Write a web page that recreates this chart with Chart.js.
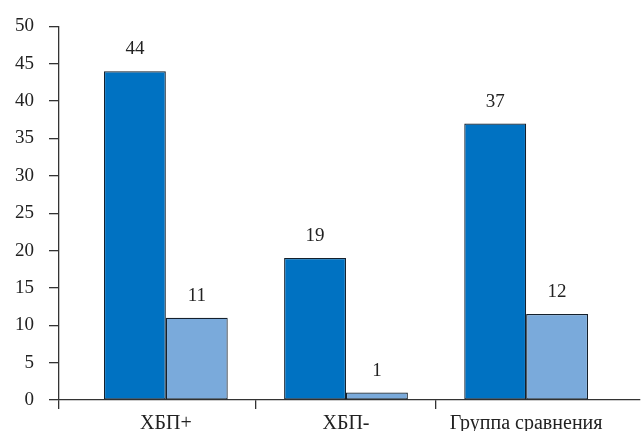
<!DOCTYPE html>
<html><head><meta charset="utf-8">
<script src="https://cdn.jsdelivr.net/npm/chart.js@4/dist/chart.umd.min.js"></script>
<style>html,body{margin:0;padding:0;background:#fff}#wrap{width:644px;height:431px}</style>
</head><body><div id="wrap"><canvas id="c"></canvas></div>
<script>
const categories = ['ХБП+', 'ХБП-', 'Группа сравнения'];
const seriesDark = [44, 19, 37];
const seriesLight = [11, 1, 11.5];
const yTicks = [0, 5, 10, 15, 20, 25, 30, 35, 40, 45, 50];

const FONT = "'Liberation Serif', 'DejaVu Serif', serif";
const XMIN = -0.593, XMAX = 2.632;

const labelPlugin = {
  id: 'vals',
  afterDatasetsDraw(chart) {
    const ctx = chart.ctx;
    ctx.save();
    ctx.font = "19px " + FONT;
    ctx.fillStyle = '#222';
    ctx.textAlign = 'center';
    ctx.textBaseline = 'middle';
    chart.data.datasets.forEach((ds, di) => {
      chart.getDatasetMeta(di).data.forEach((el, i) => {
        ctx.fillText(String(Math.round(ds.data[i].y)), el.x, el.y - 22);
      });
    });
    ctx.restore();
  }
};

new Chart(document.getElementById('c'), {
  type: 'bar',
  data: {
    datasets: [
      { data: seriesDark.map((v, i) => ({x: i, y: v})), backgroundColor: '#0072C2', borderColor: '#14202c', borderWidth: 1.2, borderSkipped: false, categoryPercentage: 0.687, barPercentage: 1, xAxisID: 'x' },
      { data: seriesLight.map((v, i) => ({x: i, y: v})), backgroundColor: '#7AAADB', borderColor: '#14202c', borderWidth: 1.2, borderSkipped: false, categoryPercentage: 0.687, barPercentage: 1, xAxisID: 'x' }
    ]
  },
  options: {
    responsive: true, maintainAspectRatio: false, animation: false,
    layout: { padding: { left: 0, right: 4, top: 10, bottom: 0 } },
    plugins: { legend: { display: false }, tooltip: { enabled: false } },
    scales: {
      x: {
        type: 'linear', min: XMIN, max: XMAX, position: 'bottom', weight: 0, offset: false,
        afterBuildTicks(s) { s.ticks = [{value: XMIN}, {value: 0.5}, {value: 1.5}]; },
        ticks: { display: false },
        grid: { display: true, offset: false, drawOnChartArea: false, drawTicks: true, tickLength: 9, color: '#333', lineWidth: 1.3 },
        border: { display: true, color: '#333', width: 1.3 }
      },
      x2: {
        type: 'linear', min: XMIN, max: XMAX, position: 'bottom', weight: 1, offset: false,
        afterBuildTicks(s) { s.ticks = categories.map((c, i) => ({value: i})); },
        afterFit(s) { s.height = 22; },
        ticks: { callback: (v) => categories[v], font: { family: FONT, size: 20, lineHeight: 0.7 }, color: '#222', padding: 8, maxRotation: 0, autoSkip: false },
        grid: { display: false, offset: false, drawTicks: false },
        border: { display: false }
      },
      y: {
        min: 0, max: 50,
        afterBuildTicks(s) { s.ticks = yTicks.map(v => ({value: v})); },
        ticks: { font: { family: FONT, size: 19 }, color: '#222', padding: 15 },
        grid: { display: true, drawOnChartArea: false, drawTicks: true, tickLength: 10, color: '#333', lineWidth: 1.3 },
        border: { display: true, color: '#333', width: 1.3 }
      }
    }
  },
  plugins: [labelPlugin]
});
</script></body></html>
